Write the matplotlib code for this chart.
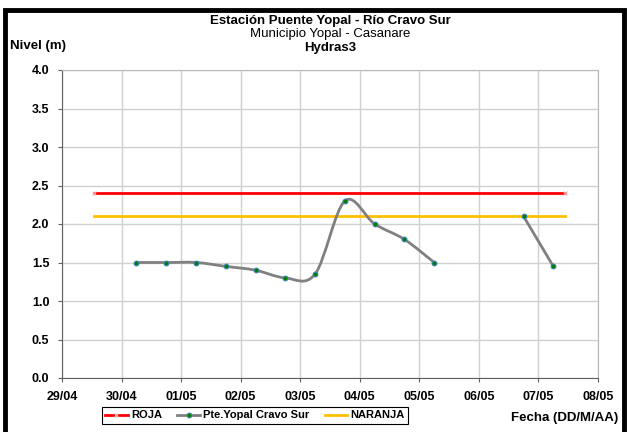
import matplotlib
matplotlib.use("Agg")
import matplotlib.pyplot as plt
import matplotlib.dates as mdates
from matplotlib.path import Path
from matplotlib.patches import PathPatch, Rectangle
from matplotlib.lines import Line2D
import numpy as np
import pandas as pd

# ── DATA ──────────────────────────────────────────────────────────────────────
TIMES = ["2014-04-30 06:00", "2014-04-30 18:00", "2014-05-01 06:00",
         "2014-05-01 18:00", "2014-05-02 06:00", "2014-05-02 18:00",
         "2014-05-03 06:00", "2014-05-03 18:00", "2014-05-04 06:00",
         "2014-05-04 18:00", "2014-05-05 06:00", "2014-05-05 18:00",
         "2014-05-06 06:00", "2014-05-06 18:00", "2014-05-07 06:00"]
NIVEL = [1.5, 1.5, 1.5, 1.45, 1.4, 1.3, 1.35, 2.3, 2.0, 1.8, 1.5,
         np.nan, np.nan, 2.1, 1.45]

UMBRAL_T = ["2014-04-29 13:00", "2014-05-07 10:45"]
ROJA = [2.4, 2.4]
NARANJA = [2.1, 2.1]

XTICKS = pd.date_range("2014-04-29", "2014-05-08", freq="D")
YTICKS = [0.0, 0.5, 1.0, 1.5, 2.0, 2.5, 3.0, 3.5, 4.0]

TITLE_1 = "Estación Puente Yopal - Río Cravo Sur"
TITLE_2 = "Municipio Yopal - Casanare"
TITLE_3 = "Hydras3"

FONT = ["Liberation Sans Narrow", "Liberation Sans", "DejaVu Sans"]
plt.rcParams["font.family"] = FONT


def smooth_path(x, y):
    """Excel-like smoothed line as cubic bezier segments."""
    verts = [(x[0], y[0])]
    codes = [Path.MOVETO]
    n = len(x)
    for i in range(n - 1):
        x0, y0 = (x[i - 1], y[i - 1]) if i > 0 else (x[i], y[i])
        x3, y3 = (x[i + 2], y[i + 2]) if i + 2 < n else (x[i + 1], y[i + 1])
        c1 = (x[i] + (x[i + 1] - x0) / 6, y[i] + (y[i + 1] - y0) / 6)
        c2 = (x[i + 1] - (x3 - x[i]) / 6, y[i + 1] - (y3 - y[i]) / 6)
        verts += [c1, c2, (x[i + 1], y[i + 1])]
        codes += [Path.CURVE4] * 3
    return Path(verts, codes)


fig = plt.figure(figsize=(6.27, 4.32), dpi=100)
ax = fig.add_axes([62 / 627, 1 - 378 / 432, 536 / 627, 308 / 432])

t = mdates.date2num(pd.to_datetime(TIMES))
v = np.array(NIVEL)
tu = mdates.date2num(pd.to_datetime(UMBRAL_T))

ax.plot(tu, ROJA, color="#ff0000", lw=2, marker="x", ms=3,
        mec="#ffb0b0", mew=0.8, zorder=3)
ax.plot(tu, NARANJA, color="#ffc000", lw=2, zorder=3)

# split series on gaps, draw smoothed line
valid = ~np.isnan(v)
seg_start = None
for i in range(len(v) + 1):
    ok = i < len(v) and valid[i]
    if ok and seg_start is None:
        seg_start = i
    elif not ok and seg_start is not None:
        xs, ys = t[seg_start:i], v[seg_start:i]
        ax.add_patch(PathPatch(smooth_path(xs, ys), fill=False,
                               edgecolor="#808080", lw=2, zorder=4))
        seg_start = None
ax.plot(t[valid], v[valid], ls="none", marker="o", ms=3.5, mfc="#008000",
        mec="#4080c0", mew=0.7, zorder=5)

ax.set_xlim(mdates.date2num(XTICKS[0]), mdates.date2num(XTICKS[-1]))
ax.set_ylim(0, 4)
ax.set_xticks(mdates.date2num(XTICKS))
ax.set_xticklabels([d.strftime("%d/%m") for d in XTICKS])
ax.set_yticks(YTICKS)
ax.set_yticklabels([f"{y:.1f}" for y in YTICKS])
ax.grid(True, color="#d0d0d0", lw=1)
ax.set_axisbelow(True)
ax.tick_params(axis="both", length=3, width=0.8, color="#606060",
               labelsize=9, pad=6)
for lab in ax.get_xticklabels() + ax.get_yticklabels():
    lab.set_fontweight("bold")
for s in ["left", "bottom"]:
    ax.spines[s].set_color("#606060")
for s in ["top", "right"]:
    ax.spines[s].set_color("#b8b8b8")

cx = 330 / 627
fig.text(cx, 1 - 21 / 432, TITLE_1, ha="center", va="center",
         fontsize=9.5, fontweight="bold")
fig.text(cx, 1 - 34 / 432, TITLE_2, ha="center", va="center", fontsize=9.5)
fig.text(cx, 1 - 48 / 432, TITLE_3, ha="center", va="center",
         fontsize=9.5, fontweight="bold")
fig.text(38 / 627, 1 - 46 / 432, "Nivel (m)", ha="center", va="center",
         fontsize=9.5, fontweight="bold")
fig.text(565 / 627, 1 - 418 / 432, "Fecha (DD/M/AA)", ha="center",
         va="center", fontsize=9.5, fontweight="bold")

handles = [
    Line2D([], [], color="#ff0000", lw=2, marker="x", ms=3, mec="#ffb0b0"),
    Line2D([], [], color="#808080", lw=2, marker="o", ms=3.5,
           mfc="#008000", mec="#4080c0", mew=0.7),
    Line2D([], [], color="#ffc000", lw=2),
]
leg = fig.legend(handles, ["ROJA", "Pte.Yopal Cravo Sur", "NARANJA"],
                 loc="center", bbox_to_anchor=(255 / 627, 1 - 415.5 / 432),
                 ncol=3, fancybox=False, framealpha=1, edgecolor="black",
                 prop={"weight": "bold", "size": 8}, handlelength=2.0,
                 handletextpad=0.3, columnspacing=1.4, borderpad=0.3)
leg.get_frame().set_linewidth(0.8)

fig.patches.append(Rectangle((5 / 627, -0.1), 619 / 627, 1.1 - 10.5 / 432,
                             transform=fig.transFigure, fill=False,
                             edgecolor="black", lw=3.5, clip_on=False))

fig.savefig("out.png", dpi=100)
